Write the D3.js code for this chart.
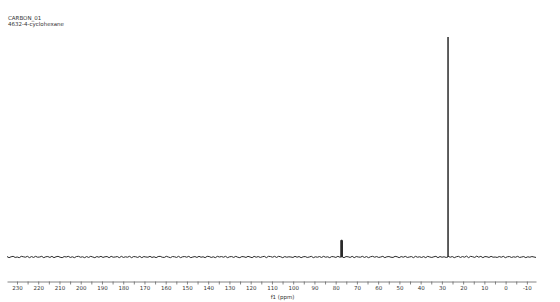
<!DOCTYPE html>
<html><head><meta charset="utf-8">
<script src="https://cdn.jsdelivr.net/npm/d3@7"></script>
<style>html,body{margin:0;padding:0;background:#fff;}svg{display:block;}</style>
</head><body>
<svg id="c" width="560" height="302"></svg>
<script>
const titleLines = ["CARBON_01", "4632-4-cyclohexane"];
const axisLabel = "f1 (ppm)";
const ppmDomain = [234.7, -14.3];
const tickValues = d3.range(230, -11, -5);
// peaks: position (ppm) and relative intensity
const peakPpm = [77.48, 77.16, 76.84, 27.1];
const peakHeight = [7.6, 7.8, 7.5, 100];
// baseline noise samples (relative intensity), left to right
const noise = [0.2,-0.3,0.1,0.3,-0.2,0.0,-0.3,0.3,0.1,-0.1,0.3,-0.3,0.2,-0.2,0.3,-0.1,0.0,0.3,-0.3,0.1,
0.2,-0.2,0.3,-0.3,0.1,0.3,-0.1,-0.3,0.2,0.0,0.3,-0.2,0.1,-0.3,0.2,0.3,-0.1,0.1,-0.3,0.2,
-0.2,0.3,0.0,-0.3,0.2,-0.1,0.3,-0.2,0.1,0.2,-0.3,0.3,-0.1,0.0,0.2,-0.3,0.3,-0.2,0.1,-0.1,
0.3,-0.3,0.2,0.1,-0.2,0.3,-0.3,0.2,0.0,-0.1,0.3,-0.2,0.1,-0.3,0.2,0.3,-0.1,-0.2,0.3,0.0,
-0.3,0.2,0.1,-0.2,0.3,-0.3,0.1,0.2,-0.1,0.3,-0.3,0.0,0.2,-0.2,0.3,-0.1,0.1,-0.3,0.3,0.2,
-0.2,0.1,-0.3,0.3,0.0,0.2,-0.1,0.3,-0.3,0.1,0.2,-0.2,0.3,-0.1,-0.3,0.2,0.1,-0.2,0.3,0.0,
-0.3,0.3,-0.1,0.2,-0.2,0.1,0.3,-0.3,0.3,0.2,-0.1,0.3,-0.2,0.3,0.1,-0.3,0.2,-0.1,0.1,0.0,
-0.2,0.3,-0.1,0.2,-0.3,0.1,0.2,-0.2,0.0,0.3,-0.3,0.1,-0.1,0.2,-0.2,0.3,-0.1,0.1,-0.3,0.2,
0.1,-0.2,0.3,-0.1,0.0,-0.3,0.2,0.1,-0.2,0.3,-0.3,0.2,0.0,-0.1,0.3,-0.2,0.2,-0.3,0.1,0.3,
-0.1,0.2,-0.2,0.0,0.3,-0.3,0.1,0.2,-0.1,-0.2,0.3,0.1,-0.3,0.2,-0.1,0.3,-0.2,0.0,0.2,-0.3,
0.3,-0.1,0.1,-0.2,0.2,-0.3,0.3,0.0,-0.2,0.1,0.3,-0.3,0.2,-0.1,0.1,-0.2,0.3,-0.1,0.2,-0.3,
0.1,0.3,-0.2,0.2,-0.1,0.4,-0.3,0.3,0.1,-0.2,0.4,-0.1,0.3,-0.3,0.2,0.1,-0.2,0.3,-0.1,0.0,
-0.2,0.2,-0.1,0.3,-0.3,0.1,0.2,-0.2,0.1,-0.1,0.3,-0.2,0.0,0.2,-0.3,0.1,-0.1,0.2,0.0,-0.2];

const svg = d3.select("#c");
const x = d3.scaleLinear().domain(ppmDomain).range([7, 536]);
const y = d3.scaleLinear().domain([0, 100]).range([257, 37]);

// build spectrum points
const step = (ppmDomain[0] - ppmDomain[1]) / (noise.length - 1);
let pts = noise.map((v, i) => [ppmDomain[0] - i * step, v]);
peakPpm.forEach((p, i) => {
  pts.push([p + 0.04, 0]);
  pts.push([p, peakHeight[i]]);
  pts.push([p - 0.04, 0]);
});
pts.sort((a, b) => b[0] - a[0]);

svg.append("path")
  .datum(pts)
  .attr("fill", "none")
  .attr("stroke", "#2a2a2a")
  .attr("stroke-width", 1)
  .attr("d", d3.line().x(d => x(d[0])).y(d => y(d[1])));

// axis
const ax = svg.append("g")
  .attr("transform", "translate(0,281.5)")
  .call(d3.axisBottom(x).tickValues(tickValues).tickSize(3).tickSizeOuter(0)
    .tickFormat(d => d % 10 === 0 ? String(d) : ""));
ax.select(".domain").attr("stroke", "#666").attr("stroke-width", 0.8);
ax.selectAll(".tick line").attr("stroke", "#666").attr("stroke-width", 0.8);
ax.selectAll(".tick text").attr("fill", "#333").attr("font-family", "DejaVu Sans")
  .attr("font-size", 5.5).attr("y", 5);

svg.append("text")
  .attr("x", x(105)).attr("y", 298.5)
  .attr("text-anchor", "middle")
  .attr("font-family", "DejaVu Sans").attr("font-size", 5.5).attr("fill", "#333")
  .text(axisLabel);

svg.selectAll(".title").data(titleLines).enter().append("text")
  .attr("class", "title")
  .attr("x", 8).attr("y", (d, i) => 20 + i * 6)
  .attr("font-family", "DejaVu Sans").attr("font-size", 5.5).attr("fill", "#333")
  .text(d => d);
</script>
</body></html>
